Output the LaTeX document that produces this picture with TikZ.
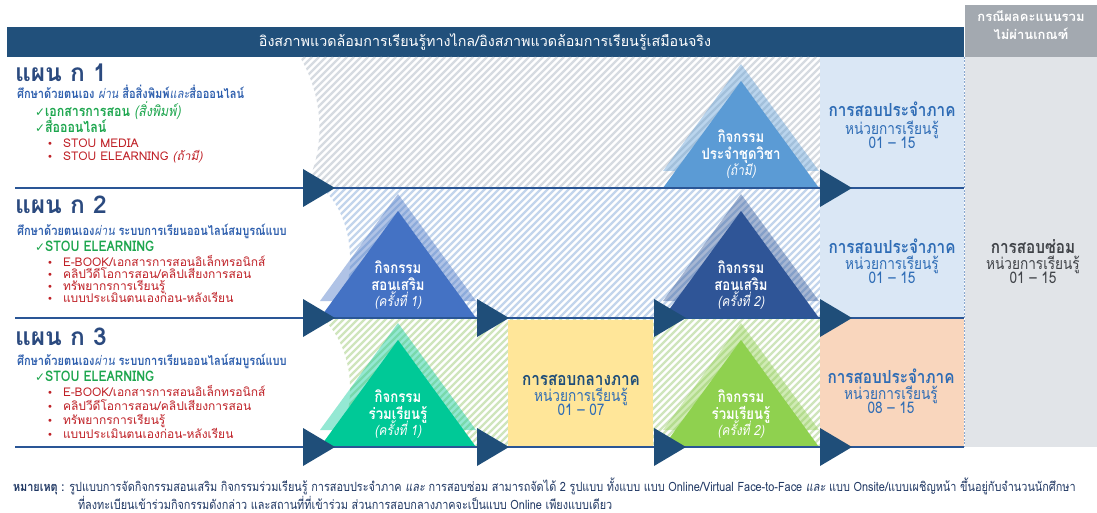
\documentclass[tikz,border=0pt]{standalone}
\usepackage{fontspec}
\setmainfont[Script=Thai]{Loma}
\newfontfamily\cnd[Script=Thai,FakeStretch=0.85]{Loma}
\newfontfamily\symf{DejaVu Sans}
\definecolor{hdrblue}{HTML}{21507B}
\definecolor{lineblue}{HTML}{2A5696}
\definecolor{arrowblue}{HTML}{1F4E79}
\definecolor{titleblue}{HTML}{2B4A7F}
\definecolor{subblue}{HTML}{2E5FAE}
\definecolor{okgreen}{HTML}{1DA64E}
\definecolor{itemred}{HTML}{BF2026}
\definecolor{triA}{HTML}{5B9BD5}
\definecolor{triB}{HTML}{4472C4}
\definecolor{triC}{HTML}{2F5597}
\definecolor{triD}{HTML}{00C997}
\definecolor{triE}{HTML}{8FD14F}
\definecolor{paleblue}{HTML}{DAE7F5}
\definecolor{paleyellow}{HTML}{FFE699}
\definecolor{palepeach}{HTML}{F9D6BD}
\definecolor{palegray}{HTML}{E1E4E8}
\definecolor{midgray}{HTML}{A3A9B0}
\definecolor{hatchgray}{HTML}{D6DBE1}
\definecolor{hatchblue}{HTML}{C3D5EC}
\definecolor{hatchgreen}{HTML}{CFE5BC}
\definecolor{examblue}{HTML}{2E6CB5}
\definecolor{midtermblue}{HTML}{1F4E79}
\definecolor{notenavy}{HTML}{1F3763}
\definecolor{darkgraytxt}{HTML}{404348}
\definecolor{dashblue}{HTML}{8AA8D0}
\newcommand\acttri[3]{%
  \fill[#3, fill opacity=0.42] ({#1-78},{#2-17}) -- (#1,{#2-124}) -- ({#1+78},{#2-17}) -- cycle;
  \fill[#3] ({#1-78},#2) -- (#1,{#2-107}) -- ({#1+78},#2) -- cycle;}
\newcommand\hatchrow[4]{%
  \begin{scope}
  \clip #4;
  \foreach \k in {0,...,100}{\draw[#3,line width=2.2pt] ({160+7*\k},#2) -- ++({#2-#1},{-(#2-#1)});}
  \end{scope}}
\newcommand\arrhd[2]{\fill[arrowblue] (#1,{#2-19}) -- ({#1+32},#2) -- (#1,{#2+19}) -- cycle;}
\newcommand\bul{\makebox[16pt][l]{\symf\mdseries\fontsize{10}{10}\selectfont •}}
\newcommand\chk{{\symf\mdseries\fontsize{12}{12}\selectfont ✓}}
\tikzset{
  lt/.style={anchor=base west, inner sep=0pt, outer sep=0pt},
  ct/.style={anchor=base, inner sep=0pt, outer sep=0pt},
  rowline/.style={draw=lineblue, line width=2.8pt},
  plantitle/.style={lt, text=titleblue, font=\fontsize{24.5}{24.5}\selectfont\bfseries},
  plansub/.style={lt, text=subblue, font=\cnd\fontsize{13}{13}\selectfont\bfseries},
  planchk/.style={lt, text=okgreen, font=\cnd\fontsize{14.6}{14.6}\selectfont\bfseries},
  planitem/.style={lt, text=itemred, font=\fontsize{12}{12}\selectfont},
  tritext/.style={ct, text=white, font=\cnd\fontsize{15.5}{15.5}\selectfont\bfseries},
  trinote/.style={ct, text=white, font=\cnd\fontsize{14}{14}\selectfont\itshape},
  examtitle/.style={ct, text=examblue, font=\cnd\fontsize{18}{18}\selectfont\bfseries},
  examsub/.style={ct, text=examblue, font=\cnd\fontsize{16}{16}\selectfont},
  notetext/.style={lt, text=notenavy, font=\cnd\fontsize{12.8}{12.8}\selectfont},
}
\begin{document}
\begin{tikzpicture}[x=1pt,y=-1pt]
\useasboundingbox (0,0) rectangle (1097,513);
% backgrounds
\fill[white] (0,0) rectangle (1097,513);
\fill[palegray] (965,57) rectangle (1097,447);
\fill[midgray] (965,5) rectangle (1097,57);
\fill[hdrblue] (7,27) rectangle (964,57);
% hatching
\hatchrow{57}{188}{hatchgray}{(300,57) -- (820,57) -- (820,188) -- (305,188) .. controls (325,150) and (325,100) .. (300,57) -- cycle}
\hatchrow{188}{318}{hatchblue}{(322,188) -- (820,188) -- (820,318) -- (330,318) .. controls (358,290) and (358,220) .. (322,188) -- cycle}
\hatchrow{318}{447}{hatchgreen}{(322,318) -- (820,318) -- (820,447) -- (330,447) .. controls (358,420) and (358,350) .. (322,318) -- cycle}
% boxes
\fill[paleblue] (820,57) rectangle (964,318);
\fill[paleyellow] (508,320) rectangle (653,447);
\fill[palepeach] (820,318) rectangle (964,447);
\draw[dashblue, line width=0.6pt, dash pattern=on 2pt off 1.5pt] (964,57) -- (964,447);
% activity triangles
\acttri{741}{188}{triA}
\acttri{398}{318}{triB}
\acttri{741}{318}{triC}
\acttri{398}{447}{triD}
\acttri{741}{447}{triE}
% row lines
\draw[rowline] (15,188) -- (964,188);
\draw[rowline] (15,318) -- (964,318);
\draw[rowline] (15,447) -- (964,447);
% arrowheads
\arrhd{303}{188}\arrhd{820}{188}
\arrhd{303}{318}\arrhd{477}{318}\arrhd{654}{318}\arrhd{820}{318}
\arrhd{303}{447}\arrhd{477}{447}\arrhd{654}{447}\arrhd{820}{447}
% header texts
\node[ct, text=white, font=\fontsize{14.3}{14.3}\selectfont] (hdr) at (485,47) {อิงสภาพแวดล้อมการเรียนรู้ทางไกล/อิงสภาพแวดล้อมการเรียนรู้เสมือนจริง};
\node[ct, text=white, font=\fontsize{13}{13}\selectfont\bfseries] (gh1) at (1031,22) {กรณีผลคะแนนรวม};
\node[ct, text=white, font=\fontsize{13}{13}\selectfont\bfseries] (gh2) at (1031,40) {ไม่ผ่านเกณฑ์};
% plan 1
\node[plantitle] (p1t) at (15,82) {แผน ก 1};
\node[plansub] (p1s) at (17,99) {ศึกษาด้วยตนเอง {\mdseries\itshape ผ่าน} สื่อสิ่งพิมพ์{\mdseries\itshape และ}สื่อออนไลน์};
\node[planchk] (p1c1) at (35,117) {\chk เอกสารการสอน {\mdseries\itshape (สิ่งพิมพ์)}};
\node[planchk] (p1c2) at (35,133) {\chk สื่อออนไลน์};
\node[planitem] (p1i1) at (47,148) {\bul STOU MEDIA};
\node[planitem] (p1i2) at (47,161) {\bul STOU ELEARNING {\itshape (ถ้ามี)}};
% plan 2
\node[plantitle] (p2t) at (15,214) {แผน ก 2};
\node[plansub] (p2s) at (17,235) {ศึกษาด้วยตนเอง{\mdseries\itshape ผ่าน} ระบบการเรียนออนไลน์สมบูรณ์แบบ};
\node[planchk] (p2c) at (35,251) {\chk STOU ELEARNING};
\node[planitem] (p2i1) at (47,266) {\bul E-BOOK/เอกสารการสอนอิเล็กทรอนิกส์};
\node[planitem] (p2i2) at (47,278) {\bul คลิปวีดีโอการสอน/คลิปเสียงการสอน};
\node[planitem] (p2i3) at (47,290) {\bul ทรัพยากรการเรียนรู้};
\node[planitem] (p2i4) at (47,302) {\bul แบบประเมินตนเองก่อน-หลังเรียน};
% plan 3
\node[plantitle] (p3t) at (15,345) {แผน ก 3};
\node[plansub] (p3s) at (17,365) {ศึกษาด้วยตนเอง{\mdseries\itshape ผ่าน} ระบบการเรียนออนไลน์สมบูรณ์แบบ};
\node[planchk] (p3c) at (35,381) {\chk STOU ELEARNING};
\node[planitem] (p3i1) at (47,396) {\bul E-BOOK/เอกสารการสอนอิเล็กทรอนิกส์};
\node[planitem] (p3i2) at (47,410) {\bul คลิปวีดีโอการสอน/คลิปเสียงการสอน};
\node[planitem] (p3i3) at (47,424) {\bul ทรัพยากรการเรียนรู้};
\node[planitem] (p3i4) at (47,438) {\bul แบบประเมินตนเองก่อน-หลังเรียน};
% triangle texts
\node[tritext] (a1a) at (741,143) {กิจกรรม};
\node[tritext] (a1b) at (741,160) {ประจำชุดวิชา};
\node[trinote] (a1c) at (741,176) {(ถ้ามี)};
\node[tritext] (a2a) at (398,273) {กิจกรรม};
\node[tritext] (a2b) at (398,290) {สอนเสริม};
\node[trinote] (a2c) at (398,306) {(ครั้งที่ 1)};
\node[tritext] (a3a) at (741,273) {กิจกรรม};
\node[tritext] (a3b) at (741,290) {สอนเสริม};
\node[trinote] (a3c) at (741,306) {(ครั้งที่ 2)};
\node[tritext] (a4a) at (398,402) {กิจกรรม};
\node[tritext] (a4b) at (398,419) {ร่วมเรียนรู้};
\node[trinote] (a4c) at (398,435) {(ครั้งที่ 1)};
\node[tritext] (a5a) at (741,402) {กิจกรรม};
\node[tritext] (a5b) at (741,419) {ร่วมเรียนรู้};
\node[trinote] (a5c) at (741,435) {(ครั้งที่ 2)};
% exam boxes
\node[examtitle] (e1a) at (892,117) {การสอบประจำภาค};
\node[examsub] (e1b) at (892,135) {หน่วยการเรียนรู้};
\node[examsub] (e1c) at (892,149) {01 – 15};
\node[examtitle] (e2a) at (892,253) {การสอบประจำภาค};
\node[examsub] (e2b) at (892,269) {หน่วยการเรียนรู้};
\node[examsub] (e2c) at (892,283) {01 – 15};
\node[examtitle] (e3a) at (891,383) {การสอบประจำภาค};
\node[examsub] (e3b) at (891,399) {หน่วยการเรียนรู้};
\node[examsub] (e3c) at (891,413) {08 – 15};
\node[examtitle, text=midtermblue] (m1a) at (581,385) {การสอบกลางภาค};
\node[examsub] (m1b) at (581,401) {หน่วยการเรียนรู้};
\node[examsub] (m1c) at (581,415) {01 – 07};
\node[examtitle, text=darkgraytxt] (r1a) at (1033,253) {การสอบซ่อม};
\node[examsub, text=darkgraytxt] (r1b) at (1033,269) {หน่วยการเรียนรู้};
\node[examsub, text=darkgraytxt] (r1c) at (1033,283) {01 – 15};
% footnote
\node[notetext] (n1) at (13,491) {{\bfseries หมายเหตุ :} รูปแบบการจัดกิจกรรมสอนเสริม กิจกรรมร่วมเรียนรู้ การสอบประจำภาค {\itshape และ} การสอบซ่อม สามารถจัดได้ 2 รูปแบบ ทั้งแบบ แบบ Online/Virtual Face-to-Face {\itshape และ} แบบ Onsite/แบบเผชิญหน้า ขึ้นอยู่กับจำนวนนักศึกษา};
\node[notetext] (n2) at (78,509) {ที่ลงทะเบียนเข้าร่วมกิจกรรมดังกล่าว และสถานที่ที่เข้าร่วม ส่วนการสอบกลางภาคจะเป็นแบบ Online เพียงแบบเดียว};
\end{tikzpicture}
\end{document}
